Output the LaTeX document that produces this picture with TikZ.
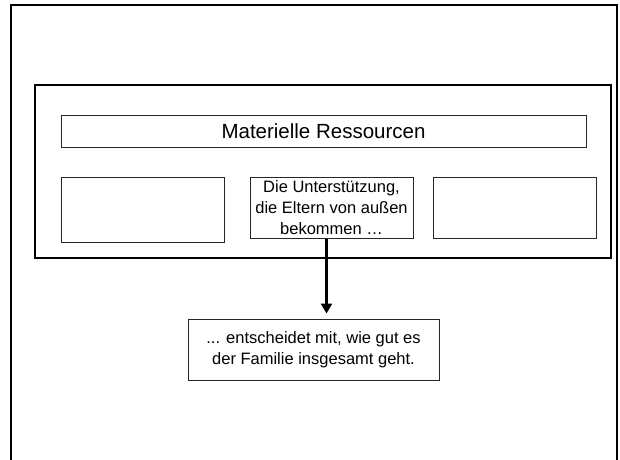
\documentclass[tikz,border=0pt]{standalone}
\usepackage{fontspec}
\setmainfont{Liberation Sans}
\usepackage{tikz}
\usetikzlibrary{calc}
\usetikzlibrary{arrows.meta}

\tikzset{
  framebox/.style={draw, line width=1.8pt, inner sep=0pt},
  textbox/.style={draw=black!85, line width=1pt, inner sep=0pt, align=center,
                  font=\fontsize{16.5}{21}\selectfont},
}

\begin{document}
\begin{tikzpicture}[x=1pt,y=-1pt]
                \useasboundingbox (0,0) rectangle (620,459);
                
                % Drawing the slide frame (open at the bottom)
                \draw [line width=2.2pt] (11,462) -- (11,5) -- (617,5) -- (617,462);%
                
                % Drawing the group box
                \node [framebox, minimum width=576, minimum height=173] (group) at (323,171.5) {};%
                
                % Drawing the title box
                \node [textbox, minimum width=525, minimum height=32,
                       font=\fontsize{20.5}{24}\selectfont] (title) at (323.5,131) {Materielle Ressourcen};%
                
                % Drawing the three boxes of the lower row
                \node [textbox, minimum width=163, minimum height=65] (left) at (142.5,209.5) {};%
                \node [textbox, minimum width=163, minimum height=61] (mid) at (331.5,207.5)
                      {Die Unterstützung,\\die Eltern von außen\\bekommen …};%
                \node [textbox, minimum width=163, minimum height=61] (right) at (514.5,207.5) {};%
                
                % Drawing the result box
                \node [textbox, minimum width=251, minimum height=61] (result) at (313.5,349.5)
                      {... entscheidet mit, wie gut es\\der Familie insgesamt geht.};%
                
                % Drawing the arrow
                \draw [line width=3pt, -{Triangle[length=10pt,width=11pt]}, shorten >=5pt]
                      ([xshift=-5pt]mid.south) -- ([xshift=-5pt]mid.south |- result.north);%
            \end{tikzpicture}
\end{document}
